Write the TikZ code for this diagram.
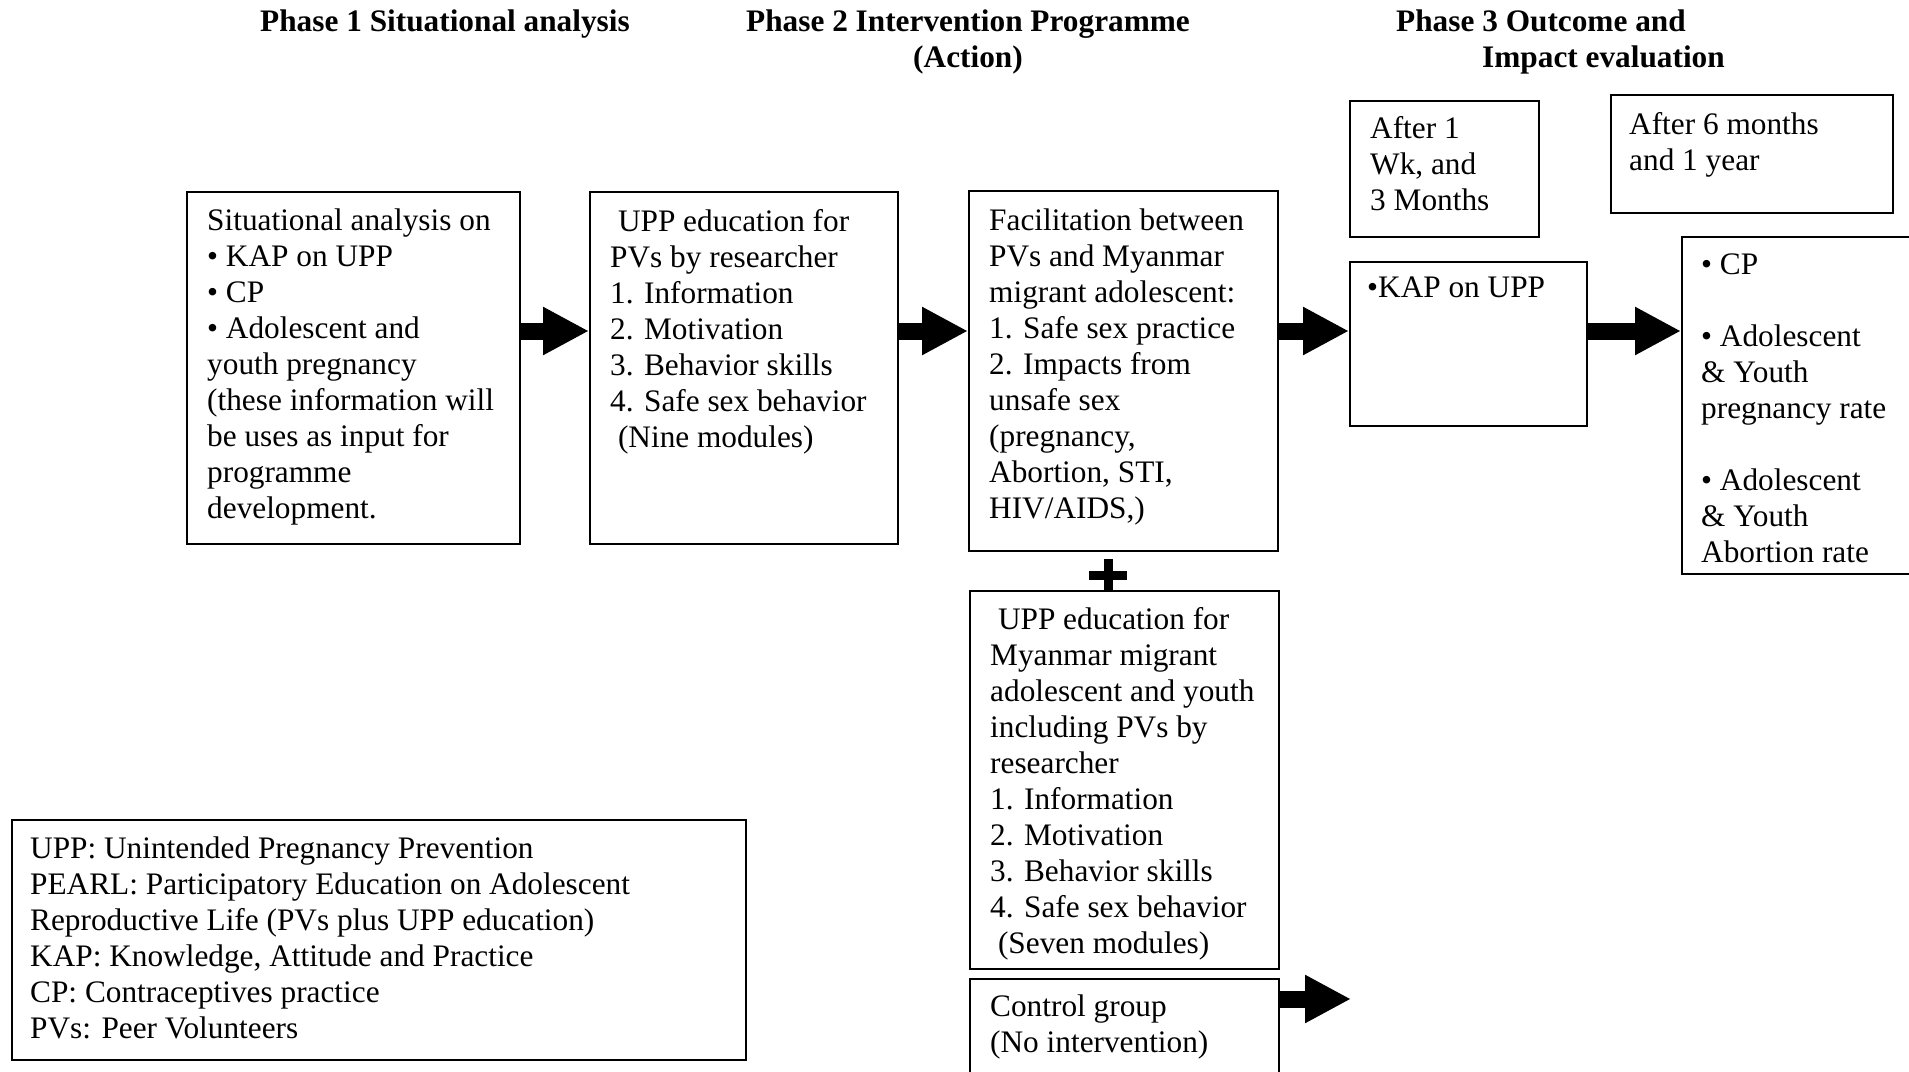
\documentclass[tikz,border=0pt]{standalone}
\usepackage{fontspec}
\setmainfont{Liberation Serif}
\usetikzlibrary{arrows.meta}

\begin{document}
\begin{tikzpicture}[x=1pt, y=-1pt,
		box/.style={draw, line width=1.6pt, inner sep=0pt, anchor=north west},
		txt/.style={anchor=north west, align=left, inner sep=0pt, font=\fontsize{31.3}{36}\selectfont},
		phase/.style={inner sep=0pt, font=\fontsize{31.3}{36}\selectfont\bfseries},
		fat/.style={line width=17pt, -{Triangle[length=46pt, width=45pt]}}]
		\useasboundingbox (0,0) rectangle (1909,1071);
		\node[phase, anchor=base west] (ph1) at (260,31) {Phase 1 Situational analysis};
		\node[phase, anchor=north, align=center] (ph2) at (968,9.5) {Phase 2 Intervention Programme\\(Action)};
		\node[phase, anchor=north west, align=left] (ph3) at (1396,9.5) {Phase 3 Outcome and\\\hspace*{86pt}Impact evaluation};
		\node[box, minimum width=333, minimum height=352] (sit) at (186,191) {};
		\node[box, minimum width=308, minimum height=352] (upp) at (589,191) {};
		\node[box, minimum width=309, minimum height=360] (fac) at (968,190) {};
		\node[box, minimum width=309, minimum height=378] (mig) at (969,590) {};
		\node[box, minimum width=309, minimum height=130] (ctrl) at (969,978) {};
		\node[box, minimum width=189, minimum height=136] (wk) at (1349,100) {};
		\node[box, minimum width=282, minimum height=118] (mon) at (1610,94) {};
		\node[box, minimum width=237, minimum height=164] (kap) at (1349,261) {};
		\node[box, minimum width=260, minimum height=337] (cp) at (1681,236) {};
		\node[box, minimum width=734, minimum height=240] (abbr) at (11,819) {};
		\node[txt] (sittext) at (207,209) {Situational analysis on\\• KAP on UPP\\• CP\\• Adolescent and\\youth pregnancy\\(these information will\\be uses as input for\\programme\\development.};
		\node[txt] (upptext) at (610,209) {\ UPP education for\\PVs by researcher\\1. Information\\2. Motivation\\3. Behavior skills\\4. Safe sex behavior\\\ (Nine modules)};
		\node[txt] (factext) at (989,209) {Facilitation between\\PVs and Myanmar\\migrant adolescent:\\1. Safe sex practice\\2. Impacts from\\unsafe sex\\(pregnancy,\\Abortion, STI,\\HIV/AIDS,)};
		\node[txt] (migtext) at (990,607.5) {\ UPP education for\\Myanmar migrant\\adolescent and youth\\including PVs by\\researcher\\1. Information\\2. Motivation\\3. Behavior skills\\4. Safe sex behavior\\\ (Seven modules)};
		\node[txt] (ctrltext) at (990,995) {Control group\\(No intervention)};
		\node[txt] (wktext) at (1370,116.5) {After 1\\Wk, and\\3 Months};
		\node[txt] (montext) at (1629,112.5) {After 6 months\\and 1 year};
		\node[txt] (kaptext) at (1367,277) {•KAP on UPP};
		\node[txt] (cptext) at (1701,253.5) {• CP\\[36pt]• Adolescent\\\& Youth\\pregnancy rate\\[36pt]• Adolescent\\\& Youth\\Abortion rate};
		\node[txt] (abbrtext) at (30,836.5) {UPP: Unintended Pregnancy Prevention\\PEARL: Participatory Education on Adolescent\\Reproductive Life (PVs plus UPP education)\\KAP: Knowledge, Attitude and Practice\\CP: Contraceptives practice\\PVs: Peer Volunteers};
		\draw[line width=9pt] (1108,559) -- (mig.north -| 1108,0) (1089,575) -- (1127,575);
		\draw[fat] (sit.east |- 0,331) -- (upp.west |- 0,331);
		\draw[fat] (upp.east |- 0,331) -- (fac.west |- 0,331);
		\draw[fat] (fac.east |- 0,331) -- (kap.west |- 0,331);
		\draw[fat] (kap.east |- 0,331) -- (cp.west |- 0,331);
		\coordinate (ctrlend) at (1351,999);
		\draw[fat] (ctrl.east |- ctrlend) -- (ctrlend);
\end{tikzpicture}
\end{document}
